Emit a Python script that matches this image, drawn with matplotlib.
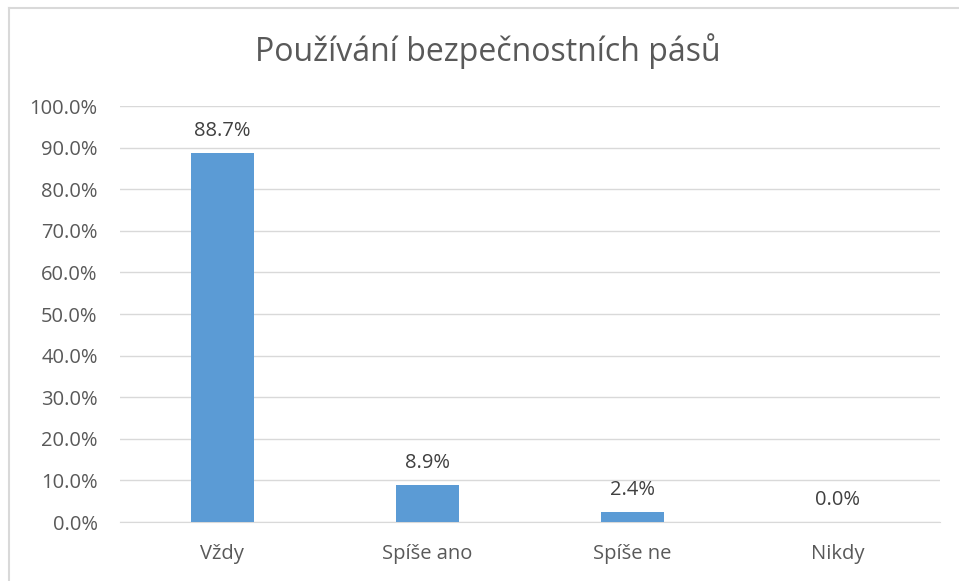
import matplotlib
matplotlib.use("Agg")
import matplotlib.pyplot as plt
from matplotlib.lines import Line2D
from matplotlib.ticker import FuncFormatter, MultipleLocator

categories = ["Vždy", "Spíše ano", "Spíše ne", "Nikdy"]
values = [88.7, 8.9, 2.4, 0.0]
title = "Používání bezpečnostních pásů"

plt.rcParams['font.family'] = ['Open Sans', 'DejaVu Sans']
text_color = "#595959"

fig = plt.figure(figsize=(9.59, 5.81), dpi=100)
ax = fig.add_axes([0.125, 0.1015, 0.855, 0.716])

x = range(len(categories))
ax.bar(x, values, width=0.31, color="#5B9BD5", zorder=3)
for xi, v in zip(x, values):
    ax.annotate(f"{v:.1f}%", xy=(xi, v), xytext=(0, 9), textcoords="offset points",
                ha="center", va="bottom", fontsize=14.5, color="#404040")

ax.set_xlim(-0.5, len(categories) - 0.5)
ax.set_ylim(0, 100)
ax.yaxis.set_major_locator(MultipleLocator(10))
ax.yaxis.set_major_formatter(FuncFormatter(lambda v, p: f"{v:.1f}%"))
ax.set_xticks(list(x))
ax.set_xticklabels(categories)
ax.tick_params(axis="both", length=0, labelsize=14.5, labelcolor=text_color)
ax.tick_params(axis="x", pad=16)
ax.tick_params(axis="y", pad=16)
ax.grid(axis="y", color="#D9D9D9", linewidth=1, zorder=0)
for s in ["top", "right", "left"]:
    ax.spines[s].set_visible(False)
ax.spines["bottom"].set_color("#D9D9D9")

fig.text(0.509, 0.912, title, ha="center", va="center", fontsize=23, color=text_color)

# chart frame: top and left edges visible (cropped at right/bottom)
fx = 8.5 / 959
fy = 1 - 7.5 / 581
fig.lines.append(Line2D([fx, 1], [fy, fy], transform=fig.transFigure, color="#D9D9D9", linewidth=1.5))
fig.lines.append(Line2D([fx, fx], [0, fy], transform=fig.transFigure, color="#D9D9D9", linewidth=1.5))

fig.savefig("out.png", dpi=100)
